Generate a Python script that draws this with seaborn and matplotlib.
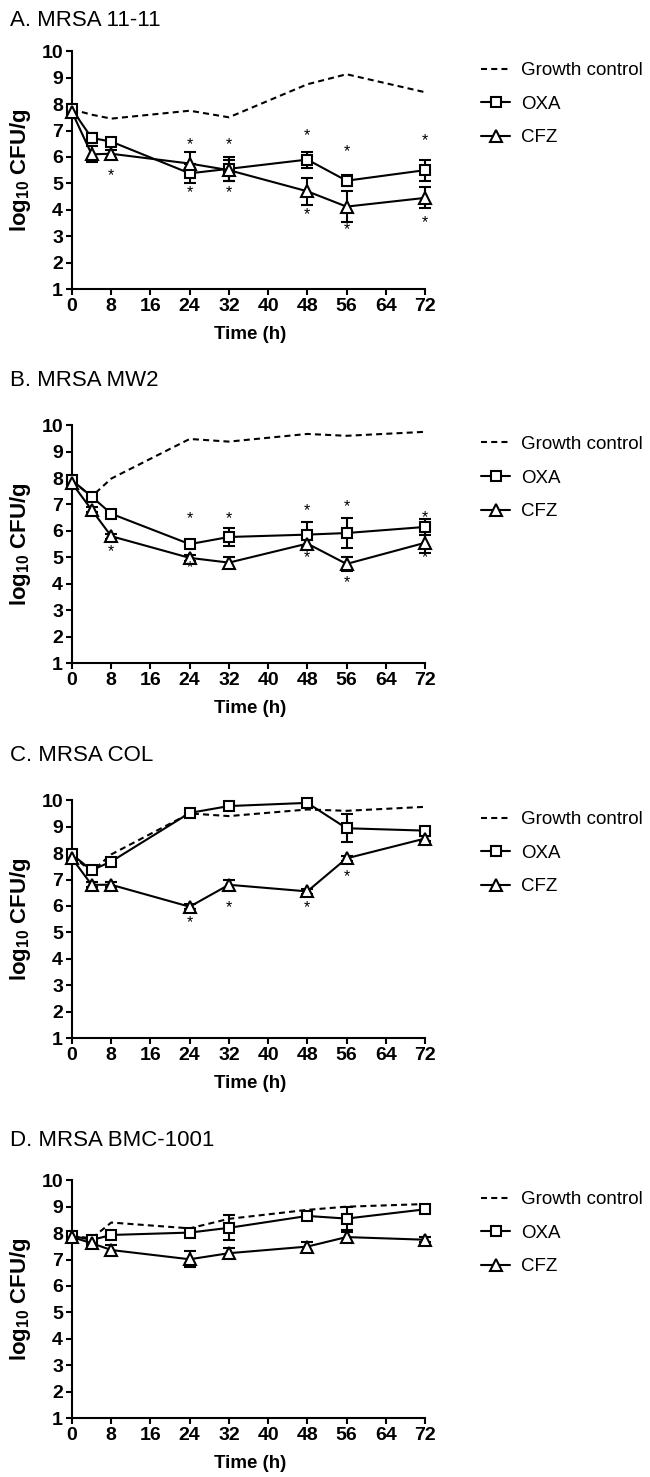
import matplotlib
matplotlib.use('Agg')
import matplotlib.pyplot as plt
import seaborn as sns
from matplotlib.lines import Line2D

# valores (log10 CFU/g)
hours = [0, 4, 8, 24, 32, 48, 56, 72]
x_ticks = [0, 8, 16, 24, 32, 40, 48, 56, 64, 72]
y_ticks = [1, 2, 3, 4, 5, 6, 7, 8, 9, 10]

titles = ['A. MRSA 11-11', 'B. MRSA MW2', 'C. MRSA COL', 'D. MRSA BMC-1001']

gc_a = [7.8, 7.6, 7.45, 7.75, 7.5, 8.75, 9.13, 8.45]
oxa_a = [7.8, 6.72, 6.58, 5.38, 5.55, 5.9, 5.1, 5.5]
oxa_a_sd = [0.1, 0.2, 0.15, 0.35, 0.45, 0.3, 0.2, 0.4]
cfz_a = [7.7, 6.1, 6.12, 5.75, 5.5, 4.7, 4.12, 4.45]
cfz_a_sd = [0.1, 0.3, 0.15, 0.45, 0.4, 0.52, 0.6, 0.4]
star_a_x = [8, 24, 24, 32, 32, 48, 48, 56, 56, 72, 72]
star_a_y = [5.3, 6.45, 4.65, 6.45, 4.65, 6.8, 3.8, 6.2, 3.25, 6.6, 3.5]

gc_b = [7.9, 7.3, 7.98, 9.48, 9.38, 9.67, 9.6, 9.75]
oxa_b = [7.92, 7.3, 6.65, 5.5, 5.77, 5.86, 5.92, 6.15]
oxa_b_sd = [0.1, 0.1, 0.1, 0.1, 0.35, 0.47, 0.55, 0.3]
cfz_b = [7.8, 6.8, 5.8, 4.98, 4.8, 5.52, 4.75, 5.55]
cfz_b_sd = [0.1, 0.1, 0.1, 0.1, 0.2, 0.12, 0.25, 0.4]
star_b_x = [8, 24, 24, 32, 48, 48, 56, 56, 72, 72]
star_b_y = [5.23, 6.46, 4.6, 6.46, 6.77, 4.98, 6.92, 4.05, 6.5, 5.0]

gc_c = [7.9, 7.3, 7.95, 9.5, 9.4, 9.65, 9.6, 9.75]
oxa_c = [7.95, 7.35, 7.68, 9.52, 9.78, 9.9, 8.94, 8.85]
oxa_c_sd = [0.1, 0.1, 0.1, 0.1, 0.1, 0.1, 0.53, 0.15]
cfz_c = [7.8, 6.8, 6.8, 5.97, 6.8, 6.55, 7.8, 8.55]
cfz_c_sd = [0.1, 0.1, 0.1, 0.1, 0.2, 0.1, 0.1, 0.1]
star_c_x = [24, 32, 48, 56]
star_c_y = [5.37, 5.95, 5.95, 7.1]

gc_d = [7.9, 7.8, 8.4, 8.18, 8.54, 8.88, 9.0, 9.1]
oxa_d = [7.9, 7.74, 7.93, 8.02, 8.2, 8.65, 8.55, 8.9]
oxa_d_sd = [0.1, 0.1, 0.1, 0.1, 0.47, 0.15, 0.45, 0.15]
cfz_d = [7.85, 7.62, 7.36, 7.01, 7.24, 7.49, 7.85, 7.75]
cfz_d_sd = [0.1, 0.1, 0.2, 0.3, 0.2, 0.18, 0.2, 0.1]
star_d_x = []
star_d_y = []

panels = [
    (gc_a, oxa_a, oxa_a_sd, cfz_a, cfz_a_sd, star_a_x, star_a_y),
    (gc_b, oxa_b, oxa_b_sd, cfz_b, cfz_b_sd, star_b_x, star_b_y),
    (gc_c, oxa_c, oxa_c_sd, cfz_c, cfz_c_sd, star_c_x, star_c_y),
    (gc_d, oxa_d, oxa_d_sd, cfz_d, cfz_d_sd, star_d_x, star_d_y),
]

sns.set_theme(style='ticks')
plt.rcParams['font.family'] = ['Liberation Sans', 'DejaVu Sans']
plt.rcParams['mathtext.fontset'] = 'custom'
plt.rcParams['mathtext.rm'] = 'Liberation Sans'
plt.rcParams['mathtext.bf'] = 'Liberation Sans:bold'
plt.rcParams['mathtext.default'] = 'bf'
plt.rcParams['axes.edgecolor'] = 'black'
plt.rcParams['axes.labelcolor'] = 'black'
plt.rcParams['text.color'] = 'black'
plt.rcParams['xtick.color'] = 'black'
plt.rcParams['ytick.color'] = 'black'

fig = plt.figure(figsize=(6.5, 14.77), dpi=100)

bottoms = [0.8043, 0.5511, 0.2972, 0.0399]
title_y = [20, 380, 755, 1140]
lw = 1.5
mk = dict(markerfacecolor='white', markeredgecolor='black', markeredgewidth=1.5)

for i, (gc, oxa, oxa_sd, cfz, cfz_sd, sx, sy) in enumerate(panels):
    ax = fig.add_axes([0.1108, bottoms[i], 0.543, 0.161])

    # controle de crescimento (tracejado)
    sns.lineplot(x=hours, y=gc, ax=ax, color='black', linewidth=lw,
                 linestyle=(0, (2.9, 2.0)), errorbar=None, zorder=2, clip_on=False)

    # barras de erro
    ax.errorbar(hours, oxa, yerr=oxa_sd, fmt='none', ecolor='black', elinewidth=lw,
                capsize=4, capthick=lw, zorder=2.5, clip_on=False)
    ax.errorbar(hours, cfz, yerr=cfz_sd, fmt='none', ecolor='black', elinewidth=lw,
                capsize=4, capthick=lw, zorder=2.5, clip_on=False)

    sns.lineplot(x=hours, y=oxa, ax=ax, color='black', linewidth=lw, marker='s',
                 markersize=7.5, errorbar=None, zorder=3, clip_on=False, **mk)
    sns.lineplot(x=hours, y=cfz, ax=ax, color='black', linewidth=lw, marker='^',
                 markersize=8.5, errorbar=None, zorder=3, clip_on=False, **mk)

    for x, y in zip(sx, sy):
        ax.text(x, y, '*', ha='center', va='center', fontsize=11.5, color='black')

    ax.set_xlim(0, 72)
    ax.set_ylim(1, 10)
    ax.set_xticks(x_ticks)
    ax.set_xticklabels([str(t) for t in x_ticks], fontweight='bold')
    ax.set_yticks(y_ticks)
    ax.set_yticklabels([str(t) for t in y_ticks], fontweight='bold')
    ax.tick_params(direction='out', length=4.5, width=1.5, labelsize=14, pad=2)
    sns.despine(ax=ax)
    for s in ['left', 'bottom']:
        ax.spines[s].set_linewidth(1.5)

    ax.set_xlabel('Time (h)', fontweight='bold', fontsize=13.5)
    ax.set_ylabel('log$_{10}$ CFU/g', fontweight='bold', fontsize=16)
    ax.xaxis.set_label_coords(0.504, -0.155)
    ax.yaxis.set_label_coords(-0.11, 0.5)

    handles = [
        Line2D([], [], color='black', linewidth=lw, linestyle=(0, (2.9, 2.0))),
        Line2D([], [], color='black', linewidth=lw, marker='s', markersize=7.5, **mk),
        Line2D([], [], color='black', linewidth=lw, marker='^', markersize=8.5, **mk),
    ]
    ax.legend(handles, ['Growth control', 'OXA', 'CFZ'], loc='upper left',
              bbox_to_anchor=(1.16, 0.955), frameon=False, fontsize=13.5,
              handlelength=1.5, handletextpad=0.6, labelspacing=0.88,
              borderpad=0, borderaxespad=0)

    fig.text(10 / 650, 1 - title_y[i] / 1477, titles[i], fontsize=16, va='center')

fig.savefig('out.png', dpi=100)
